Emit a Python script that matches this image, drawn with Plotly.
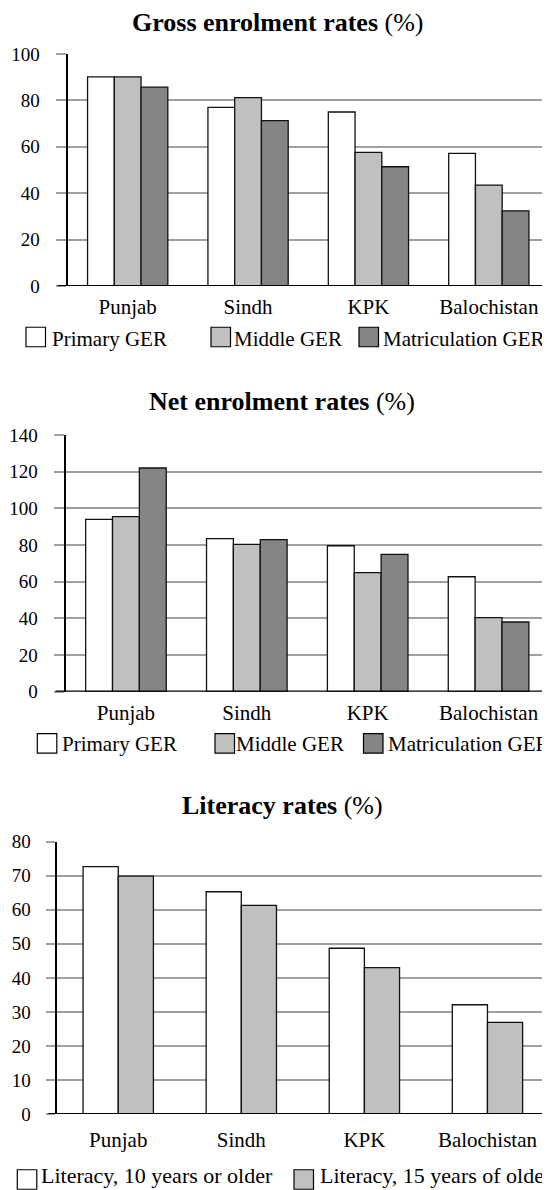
import plotly.graph_objects as go

# ---------------- data ----------------
regions = ["Punjab", "Sindh", "KPK", "Balochistan"]

ger_primary = [90.1, 77.0, 75.0, 57.2]
ger_middle = [90.1, 81.2, 57.6, 43.5]
ger_matric = [85.7, 71.3, 51.4, 32.4]

ner_primary = [94.0, 83.5, 79.6, 62.7]
ner_middle = [95.5, 80.4, 64.9, 40.4]
ner_matric = [122.0, 82.9, 74.9, 38.0]

lit_10 = [72.7, 65.3, 48.7, 32.1]
lit_15 = [69.9, 61.3, 43.0, 26.9]

enrol_names = ["Primary GER", "Middle GER", "Matriculation GER"]
lit_names = ["Literacy, 10 years or older", "Literacy, 15 years of older"]
chart_titles = ["Gross enrolment rates", "Net enrolment rates", "Literacy rates"]

# ---------------- styling / layout (pixels of the 550x1190 page) ----------------
OFF = 8                      # the page body's default margin
W, H = 550 - OFF, 1190 - OFF # figure fills the rest of the window
FONT = "Liberation Serif, Times New Roman, serif"
WHITE, LIGHT, DARK = "#ffffff", "#c0c0c0", "#858585"
GRID = "#a0a0a0"


def px(x):
    return (x - OFF) / W


def py(y):
    return 1 - (y - OFF) / H


charts = [
    dict(series=[ger_primary, ger_middle, ger_matric], names=enrol_names,
         colors=[WHITE, LIGHT, DARK], ymax=100, dtick=20,
         left=67.5, right=549, top=54, bottom=286, gridstart=57.5,
         title_x=277, title_y=23, xlab_standoff=6,
         leg_box=[26, 211, 359], leg_text=[50, 232, 381], leg_y=337, leg_ty=338.5,
         leg_size=21),
    dict(series=[ner_primary, ner_middle, ner_matric], names=enrol_names,
         colors=[WHITE, LIGHT, DARK], ymax=140, dtick=20,
         left=65.5, right=549, top=435, bottom=691.7, gridstart=55.5,
         title_x=282, title_y=401.7, xlab_standoff=6,
         leg_box=[37.3, 215, 363.5], leg_text=[60, 233.5, 386], leg_y=743.3, leg_ty=744,
         leg_size=21),
    dict(series=[lit_10, lit_15], names=lit_names,
         colors=[WHITE, LIGHT], ymax=80, dtick=10,
         left=56.7, right=549, top=841.7, bottom=1114, gridstart=48.3,
         title_x=282, title_y=805, xlab_standoff=11,
         leg_box=[17.3, 294], leg_text=[39, 317.5], leg_y=1179.5, leg_ty=1175,
         leg_size=22),
]

GAP_WIDTH = 1.5  # Excel-style gap width (150 %)
BOX = 19.5

fig = go.Figure()
annotations = []
shapes = []

for i, c in enumerate(charts, start=1):
    xa = "x" if i == 1 else f"x{i}"
    ya = "y" if i == 1 else f"y{i}"
    n = len(c["series"])
    w = 1.0 / (n + GAP_WIDTH)
    for k, (vals, name, col) in enumerate(zip(c["series"], c["names"], c["colors"])):
        fig.add_trace(go.Bar(
            x=regions, y=vals, name=name, xaxis=xa, yaxis=ya,
            width=w, offset=-n * w / 2 + k * w,
            marker=dict(color=col, line=dict(color="#111111", width=1.3)),
            showlegend=False,
        ))

    xkey = "xaxis" if i == 1 else f"xaxis{i}"
    ykey = "yaxis" if i == 1 else f"yaxis{i}"
    fig.layout[xkey] = dict(
        domain=[px(c["left"]), px(c["right"])], anchor=ya, automargin=False,
        showgrid=False, zeroline=False, showline=False, ticks="",
        tickfont=dict(family=FONT, size=21, color="black"),
        ticklabelstandoff=c["xlab_standoff"], fixedrange=True,
    )
    fig.layout[ykey] = dict(
        domain=[py(c["bottom"]), py(c["top"])], anchor=xa, automargin=False,
        range=[0, c["ymax"]], dtick=c["dtick"], tick0=0,
        showgrid=True, gridcolor=GRID, gridwidth=1.8,
        zeroline=False, showline=True, linecolor="black", linewidth=1.7,
        ticks="outside", ticklen=c["left"] - c["gridstart"], tickcolor=GRID, tickwidth=1.8,
        tickfont=dict(family=FONT, size=19, color="black"),
        ticklabelstandoff=12, fixedrange=True,
    )

    # x-axis baseline (extends left like the tick marks)
    shapes.append(dict(type="line", xref="paper", yref=ya,
                       x0=px(c["gridstart"]), x1=px(c["right"]), y0=0, y1=0,
                       line=dict(color="black", width=2.2), layer="above"))

    # title
    annotations.append(dict(
        text=f"<b>{chart_titles[i - 1]}</b> (%)", xref="paper", yref="paper",
        x=px(c["title_x"]), y=py(c["title_y"]), xanchor="center", yanchor="middle",
        showarrow=False, font=dict(family=FONT, size=26, color="black"),
    ))

    # legend (drawn as boxes + labels)
    for bx, tx, name, col in zip(c["leg_box"], c["leg_text"], c["names"], c["colors"]):
        shapes.append(dict(type="rect", xref="paper", yref="paper",
                           x0=px(bx), x1=px(bx + BOX),
                           y0=py(c["leg_y"] + BOX / 2), y1=py(c["leg_y"] - BOX / 2),
                           fillcolor=col, line=dict(color="black", width=1.2)))
        annotations.append(dict(
            text=name, xref="paper", yref="paper", x=px(tx), y=py(c["leg_ty"]),
            xanchor="left", yanchor="middle", showarrow=False,
            font=dict(family=FONT, size=c["leg_size"], color="black"),
        ))

fig.update_layout(
    template="none",
    width=W, height=H, margin=dict(l=0, r=0, t=0, b=0, pad=0, autoexpand=False),
    paper_bgcolor="white", plot_bgcolor="white",
    barmode="group", showlegend=False,
    font=dict(family=FONT, color="black"),
    annotations=annotations, shapes=shapes,
)

fig.write_html("out.html")
